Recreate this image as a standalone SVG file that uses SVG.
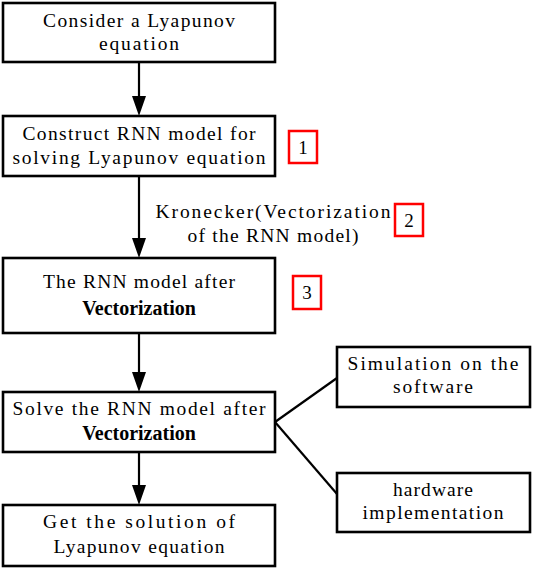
<svg xmlns="http://www.w3.org/2000/svg" width="533" height="569" viewBox="0 0 533 569">
<defs>
<style>
.box{fill:#fff;stroke:#000;stroke-width:2.6}
.red{fill:#fff;stroke:#f00;stroke-width:2.5}
.t{font-family:"Liberation Serif",serif;font-size:19.5px;fill:#000;text-anchor:middle}
.b{font-family:"Liberation Serif",serif;font-size:20px;font-weight:bold;fill:#000;text-anchor:middle}
.n{font-family:"Liberation Serif",serif;font-size:19px;fill:#000;text-anchor:middle}
.ln{stroke:#000;stroke-width:2.2;fill:none}
</style>
</defs>
<rect width="533" height="569" fill="#fff"/>
<g id="connectors">
<line class="ln" x1="139" y1="62" x2="139" y2="96"/><path d="M132,96 L146,96 L139,116 Z" fill="#000"/>
<line class="ln" x1="139" y1="176" x2="139" y2="238"/><path d="M132,238 L146,238 L139,258 Z" fill="#000"/>
<line class="ln" x1="139" y1="333" x2="139" y2="372"/><path d="M132,372 L146,372 L139,392 Z" fill="#000"/>
<line class="ln" x1="139" y1="452" x2="139" y2="485"/><path d="M132,485 L146,485 L139,505 Z" fill="#000"/>
<line class="ln" x1="275" y1="422" x2="337" y2="378"/>
<line class="ln" x1="275" y1="422" x2="337" y2="494"/>
<text class="t" x="273" y="218" textLength="235" lengthAdjust="spacing">Kronecker(Vectorization</text>
<text class="t" x="273" y="242" textLength="171" lengthAdjust="spacing">of the RNN model)</text>
</g>
<g id="n1"><rect class="box" x="3" y="3" width="272" height="59"/>
<text class="t" x="139" y="27" textLength="192" lengthAdjust="spacing">Consider a Lyapunov</text><text class="t" x="139" y="50" textLength="80" lengthAdjust="spacing">equation</text></g>
<g id="n2"><rect class="box" x="3" y="116" width="272" height="60"/>
<text class="t" x="139" y="140" textLength="233" lengthAdjust="spacing">Construct RNN model for</text><text class="t" x="139" y="164" textLength="253" lengthAdjust="spacing">solving Lyapunov equation</text></g>
<g id="n3"><rect class="box" x="3" y="258" width="272" height="75"/>
<text class="t" x="139" y="288" textLength="192" lengthAdjust="spacing">The RNN model after</text><text class="b" x="139" y="315">Vectorization</text></g>
<g id="n4"><rect class="box" x="3" y="392" width="272" height="60"/>
<text class="t" x="139" y="415" textLength="253" lengthAdjust="spacing">Solve the RNN model after</text><text class="b" x="139" y="440">Vectorization</text></g>
<g id="n5"><rect class="box" x="3" y="505" width="272" height="61"/>
<text class="t" x="139" y="528" textLength="192" lengthAdjust="spacing">Get the solution of</text><text class="t" x="139" y="553" textLength="171" lengthAdjust="spacing">Lyapunov equation</text></g>
<g id="n6"><rect class="box" x="337" y="347" width="193" height="60"/>
<text class="t" x="433" y="370" textLength="171" lengthAdjust="spacing">Simulation on the</text><text class="t" x="433" y="393" textLength="80" lengthAdjust="spacing">software</text></g>
<g id="n7"><rect class="box" x="337" y="473" width="193" height="59"/>
<text class="t" x="433" y="496" textLength="80" lengthAdjust="spacing">hardware</text><text class="t" x="433" y="519" textLength="141" lengthAdjust="spacing">implementation</text></g>
<g id="r1"><rect class="red" x="289" y="131" width="28" height="32"/><text class="n" x="303" y="154">1</text></g>
<g id="r2"><rect class="red" x="395" y="204" width="28" height="32"/><text class="n" x="409" y="227">2</text></g>
<g id="r3"><rect class="red" x="293" y="276" width="28" height="33"/><text class="n" x="307" y="299">3</text></g>
</svg>
